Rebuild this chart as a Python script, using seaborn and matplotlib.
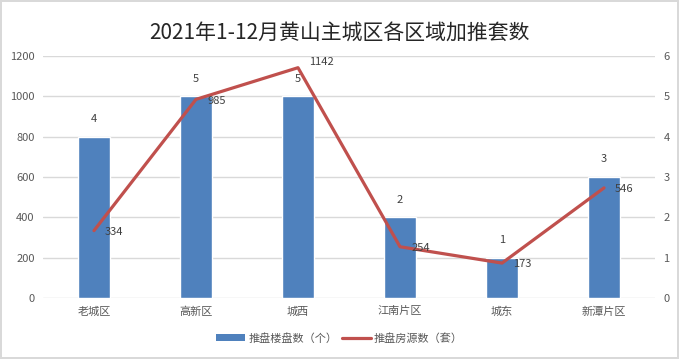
import matplotlib
matplotlib.use("Agg")
import matplotlib.pyplot as plt
from matplotlib.patches import Patch
from matplotlib.lines import Line2D
import pandas as pd
import seaborn as sns

# Districts of the main urban area
DISTRICTS = ["老城区", "高新区", "城西", "江南片区", "城东", "新潭片区"]
# Number of projects launched (bars, right axis)
PROJECTS = [4, 5, 5, 2, 1, 3]
# Number of units launched (line, left axis)
UNITS = [334, 985, 1142, 254, 173, 546]

LEFT_TICKS = [0, 200, 400, 600, 800, 1000, 1200]
RIGHT_TICKS = [0, 1, 2, 3, 4, 5, 6]

TITLE = "2021年1-12月黄山主城区各区域加推套数"
BAR_LABEL = "推盘楼盘数（个）"
LINE_LABEL = "推盘房源数（套）"

BAR_COLOR = "#4F81BD"
LINE_COLOR = "#C0504D"
TEXT_COLOR = "#595959"
GRID_COLOR = "#D9D9D9"

df = pd.DataFrame({"District": DISTRICTS, "Projects": PROJECTS, "Units": UNITS})

sns.set_theme(style="white")
plt.rcParams["font.family"] = ["Noto Sans CJK SC", "DejaVu Sans"]

fig = plt.figure(figsize=(6.79, 3.59), dpi=100)
fig.patch.set_edgecolor(GRID_COLOR)
fig.patch.set_linewidth(1.5)
ax = fig.add_axes([0.0633, 0.170, 0.9014, 0.674])

# bars on the base axes (ticks moved to the right below)
sns.barplot(data=df, x="District", y="Projects", color=BAR_COLOR, width=0.31,
            saturation=1, ax=ax)
ax.set_ylim(0, 6)
ax.set_yticks(RIGHT_TICKS)
ax.set_axisbelow(True)
ax.yaxis.grid(True, color=GRID_COLOR, linewidth=1)
for i, v in enumerate(PROJECTS):
    ax.annotate(str(v), (i, v), xytext=(0, 9), textcoords="offset points",
                ha="center", va="bottom", fontsize=8, color="#404040")

# line on the twin axes, ticks on the left
ax2 = ax.twinx()
sns.lineplot(data=df, x="District", y="Units", color=LINE_COLOR, linewidth=2.3,
             sort=False, ax=ax2)
ax2.set_ylim(0, 1200)
ax2.set_yticks(LEFT_TICKS)
ax2.yaxis.tick_left()
ax2.yaxis.set_label_position("left")
ax.yaxis.tick_right()
ax.yaxis.set_label_position("right")
for i, v in enumerate(UNITS):
    dy = 4 if v == max(UNITS) else -1
    ax2.annotate(str(v), (i, v), xytext=(8, dy), textcoords="offset points",
                 ha="left", va="center", fontsize=8, color="#404040")

ax.set_xlim(-0.5, len(DISTRICTS) - 0.5)
for a in (ax, ax2):
    a.set_xlabel("")
    a.set_ylabel("")
    for s in a.spines.values():
        s.set_visible(False)
    a.tick_params(axis="both", length=0, labelsize=8, colors=TEXT_COLOR, pad=6)

fig.suptitle(TITLE, y=0.94, fontsize=15, color="#262626")

handles = [Patch(facecolor=BAR_COLOR, edgecolor="none"),
           Line2D([0], [0], color=LINE_COLOR, linewidth=2.3)]
fig.legend(handles, [BAR_LABEL, LINE_LABEL], loc="center", bbox_to_anchor=(0.5, 0.058),
           ncol=2, frameon=False, fontsize=8, handlelength=2.6, handleheight=0.5,
           columnspacing=0.4, handletextpad=0.3, labelcolor=TEXT_COLOR)

fig.savefig("out.png", dpi=100)
